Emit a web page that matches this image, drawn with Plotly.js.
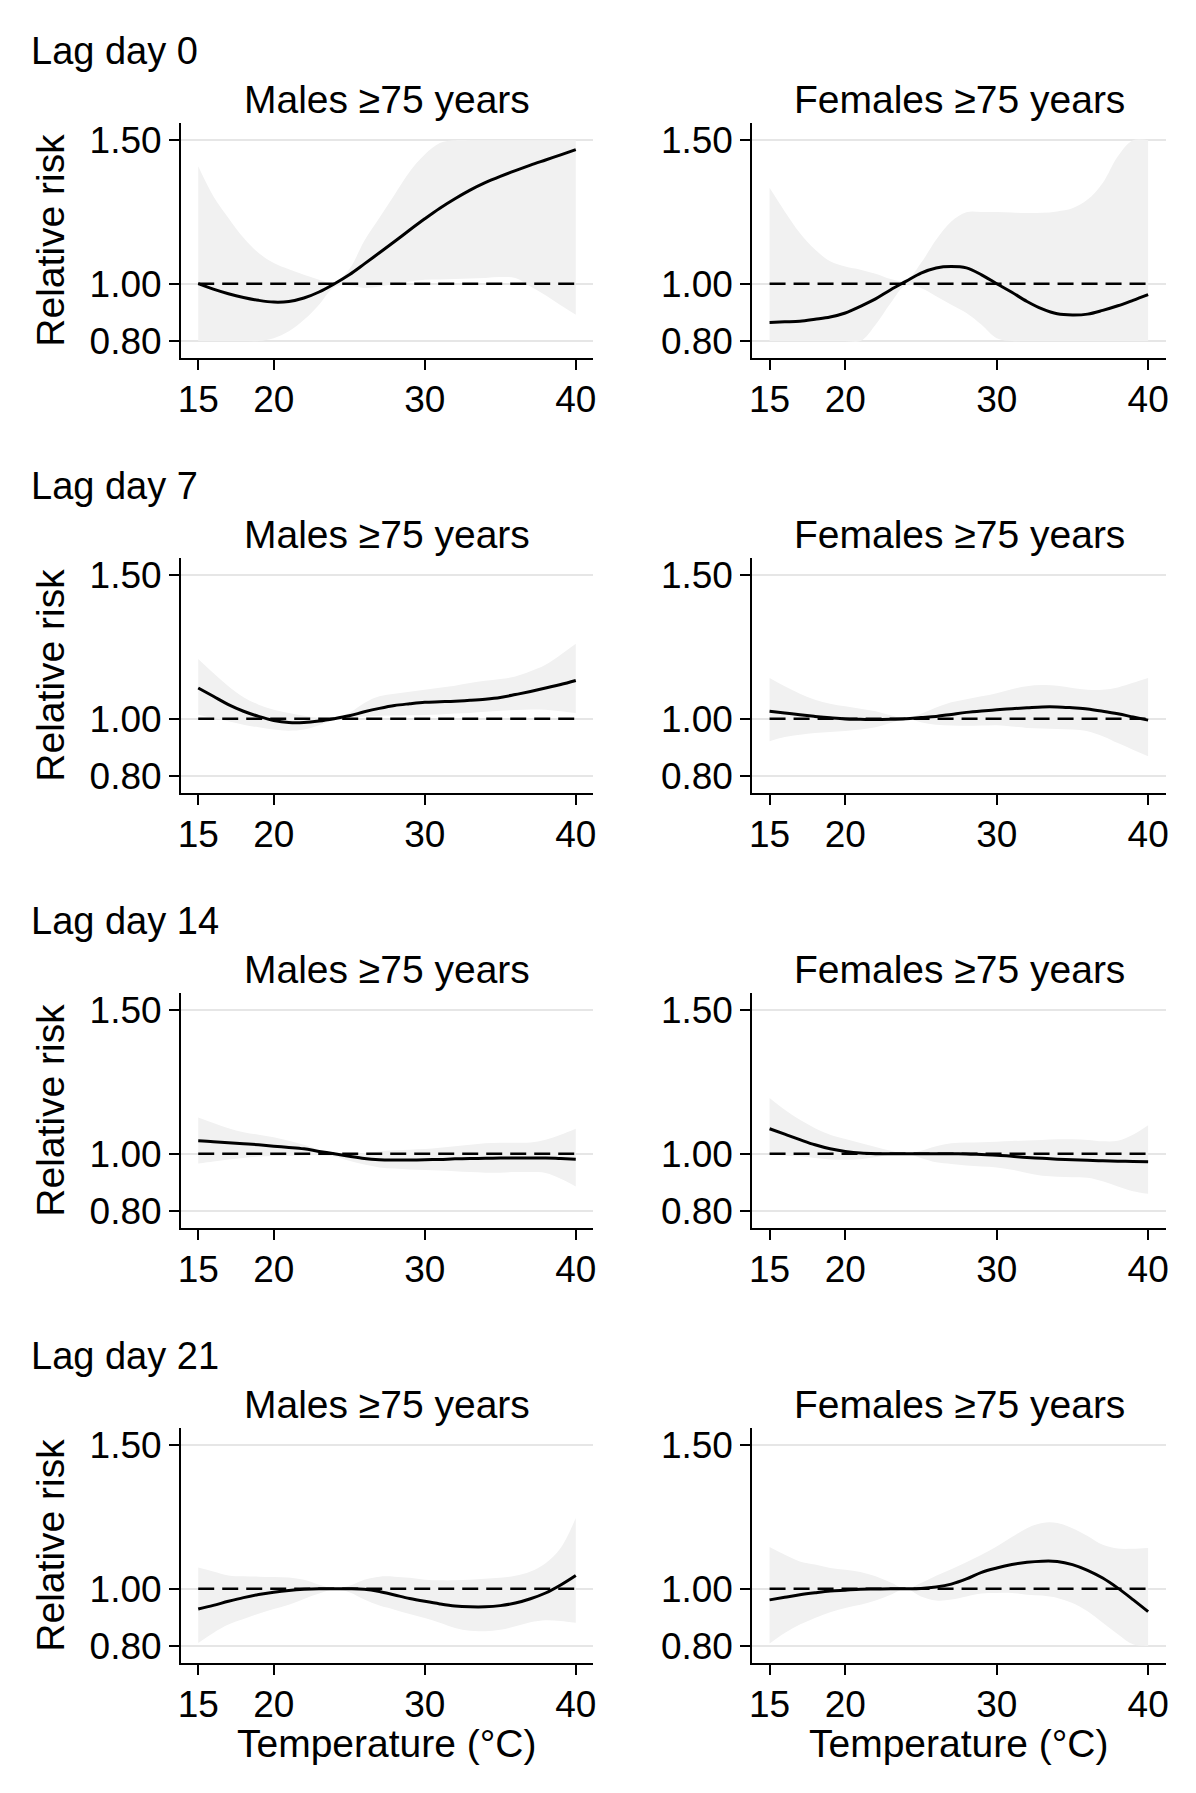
<!DOCTYPE html>
<html>
<head>
<meta charset="utf-8">
<script src="https://cdn.plot.ly/plotly-3.0.1.min.js"></script>
<style>
  body { margin: 0; background: #fff; }
  #chart { width: 1196px; height: 1793px; }
</style>
</head>
<body>
<div id="chart"></div>
<script>
// temperature grid (°C)
var temps = [15,16,17,18,19,20,21,22,23,24,25,26,27,28,29,30,31,32,33,34,35,36,37,38,39,40];

var lagLabels = ["Lag day 0", "Lag day 7", "Lag day 14", "Lag day 21"];
var groupLabels = ["Males \u226575 years", "Females \u226575 years"];
var xTicks = [15, 20, 30, 40];
var yTicks = [0.8, 1.0, 1.5];
var yTickText = ["0.80", "1.00", "1.50"];

// lag 0
var m0_rr  = [1.000,0.981,0.965,0.952,0.942,0.936,0.938,0.950,0.971,0.999,1.031,1.069,1.108,1.147,1.187,1.226,1.263,1.296,1.326,1.352,1.374,1.394,1.413,1.431,1.449,1.467];
var m0_lo  = [0.800,0.800,0.800,0.800,0.800,0.810,0.834,0.874,0.927,0.988,0.995,0.985,0.990,1.000,1.008,1.014,1.015,1.016,1.018,1.020,1.023,1.020,0.990,0.960,0.925,0.892];
var m0_hi  = [1.409,1.305,1.229,1.160,1.107,1.072,1.050,1.031,1.014,1.003,1.050,1.150,1.230,1.310,1.390,1.450,1.490,1.500,1.500,1.500,1.500,1.500,1.500,1.500,1.500,1.500];
var f0_rr  = [0.865,0.867,0.869,0.876,0.884,0.898,0.921,0.947,0.979,1.008,1.037,1.055,1.060,1.055,1.031,1.000,0.970,0.938,0.912,0.895,0.891,0.894,0.907,0.923,0.942,0.962];
var f0_lo  = [0.800,0.800,0.800,0.800,0.800,0.800,0.800,0.857,0.933,0.995,0.985,0.956,0.927,0.898,0.857,0.810,0.800,0.800,0.800,0.800,0.800,0.800,0.800,0.800,0.800,0.800];
var f0_hi  = [1.334,1.252,1.177,1.119,1.078,1.060,1.049,1.035,1.016,1.010,1.072,1.153,1.217,1.249,1.250,1.250,1.248,1.246,1.247,1.252,1.263,1.293,1.351,1.444,1.500,1.500];

// lag 7
var m7_rr  = [1.107,1.078,1.049,1.026,1.008,0.994,0.987,0.987,0.992,1.000,1.010,1.024,1.036,1.046,1.052,1.057,1.059,1.061,1.064,1.068,1.074,1.084,1.095,1.107,1.119,1.133];
var m7_lo  = [1.014,1.002,0.991,0.979,0.970,0.962,0.958,0.962,0.977,0.997,1.002,1.008,1.010,1.011,1.012,1.013,1.015,1.018,1.020,1.024,1.028,1.030,1.032,1.031,1.026,1.020];
var m7_hi  = [1.208,1.159,1.113,1.075,1.049,1.031,1.020,1.010,1.002,1.000,1.020,1.055,1.078,1.087,1.094,1.101,1.108,1.115,1.124,1.132,1.138,1.147,1.165,1.188,1.223,1.261];
var f7_rr  = [1.026,1.020,1.014,1.008,1.003,0.999,0.998,0.997,0.998,1.000,1.004,1.008,1.015,1.022,1.027,1.031,1.035,1.038,1.041,1.041,1.038,1.034,1.026,1.017,1.006,0.995];
var f7_lo  = [0.921,0.936,0.944,0.950,0.954,0.957,0.962,0.970,0.985,1.000,0.988,0.979,0.976,0.975,0.976,0.977,0.973,0.968,0.966,0.964,0.962,0.956,0.939,0.915,0.892,0.869];
var f7_hi  = [1.142,1.113,1.087,1.066,1.052,1.043,1.035,1.026,1.012,1.000,1.017,1.039,1.057,1.068,1.078,1.089,1.103,1.113,1.117,1.115,1.107,1.101,1.101,1.109,1.125,1.142];

// lag 14
var m14_rr = [1.045,1.042,1.038,1.035,1.031,1.026,1.022,1.017,1.008,1.000,0.991,0.983,0.979,0.978,0.978,0.979,0.980,0.982,0.983,0.984,0.985,0.985,0.985,0.985,0.983,0.981];
var m14_lo = [0.966,0.973,0.980,0.985,0.990,0.992,0.993,0.994,0.994,0.990,0.975,0.962,0.952,0.948,0.945,0.943,0.941,0.939,0.936,0.934,0.934,0.936,0.936,0.933,0.913,0.886];
var m14_hi = [1.126,1.107,1.089,1.075,1.066,1.057,1.045,1.031,1.014,1.001,1.000,1.002,1.008,1.012,1.014,1.016,1.021,1.026,1.031,1.036,1.038,1.038,1.039,1.049,1.066,1.087];
var f14_rr = [1.087,1.068,1.049,1.031,1.017,1.008,1.002,1.000,1.000,1.000,1.000,1.000,1.000,0.999,0.997,0.995,0.991,0.987,0.984,0.981,0.979,0.977,0.975,0.974,0.973,0.972];
var f14_lo = [0.997,0.994,0.991,0.985,0.980,0.979,0.981,0.988,0.997,1.000,0.985,0.970,0.964,0.959,0.955,0.952,0.944,0.933,0.923,0.920,0.918,0.916,0.904,0.886,0.869,0.860];
var f14_hi = [1.194,1.153,1.118,1.089,1.066,1.051,1.037,1.023,1.010,1.000,1.010,1.026,1.036,1.039,1.040,1.042,1.044,1.046,1.048,1.050,1.050,1.048,1.043,1.045,1.066,1.099];

// lag 21
var m21_rr = [0.929,0.942,0.956,0.969,0.980,0.988,0.994,0.998,1.000,1.000,1.000,0.998,0.990,0.978,0.966,0.956,0.947,0.940,0.937,0.937,0.941,0.950,0.965,0.985,1.013,1.046];
var m21_lo = [0.811,0.846,0.875,0.894,0.913,0.929,0.944,0.964,0.983,0.997,0.988,0.962,0.941,0.927,0.912,0.898,0.881,0.863,0.853,0.852,0.857,0.869,0.883,0.890,0.887,0.881];
var m21_hi = [1.074,1.060,1.046,1.043,1.042,1.041,1.039,1.031,1.014,1.002,1.010,1.031,1.042,1.042,1.038,1.031,1.029,1.029,1.031,1.035,1.038,1.045,1.060,1.089,1.142,1.246];
var f21_rr = [0.961,0.970,0.979,0.986,0.992,0.995,0.998,0.999,1.000,1.000,1.001,1.006,1.016,1.034,1.057,1.072,1.084,1.092,1.096,1.095,1.084,1.064,1.037,1.002,0.962,0.920];
var f21_lo = [0.809,0.846,0.875,0.898,0.918,0.933,0.944,0.959,0.979,1.000,0.973,0.959,0.962,0.973,0.983,0.985,0.985,0.979,0.976,0.968,0.950,0.921,0.881,0.841,0.806,0.800];
var f21_hi = [1.145,1.118,1.095,1.084,1.072,1.066,1.058,1.043,1.022,1.000,1.020,1.045,1.068,1.092,1.118,1.147,1.180,1.211,1.229,1.229,1.211,1.184,1.153,1.140,1.139,1.142];

var panels = [
  [m0_rr, m0_lo, m0_hi],   [f0_rr, f0_lo, f0_hi],
  [m7_rr, m7_lo, m7_hi],   [f7_rr, f7_lo, f7_hi],
  [m14_rr, m14_lo, m14_hi],[f14_rr, f14_lo, f14_hi],
  [m21_rr, m21_lo, m21_hi],[f21_rr, f21_lo, f21_hi]
];

var W = 1196, H = 1793;
var FONT = "Liberation Sans, Arial, sans-serif";
// pixel geometry of the plot areas
var colLeft = [181, 752.3], colRight = [593.3, 1165.7];
var rowTop0 = 123, rowBot0 = 358.3, rowStep = 435;

var traces = [];
var layout = {
  width: W, height: H,
  margin: {l: 0, r: 0, t: 0, b: 0},
  paper_bgcolor: "#fff", plot_bgcolor: "#fff",
  showlegend: false,
  font: {family: FONT, color: "#000", size: 37},
  annotations: []
};

panels.forEach(function(p, i) {
  var row = Math.floor(i / 2), col = i % 2;
  var n = i + 1;
  var xa = "x" + (n === 1 ? "" : n), ya = "y" + (n === 1 ? "" : n);
  var top = rowTop0 + row * rowStep, bot = rowBot0 + row * rowStep;

  layout["xaxis" + (n === 1 ? "" : n)] = {
    domain: [colLeft[col] / W, colRight[col] / W],
    range: [13.86, 41.16],
    anchor: ya,
    tickvals: xTicks,
    ticks: "outside", ticklen: 10, tickwidth: 2, tickcolor: "#000",
    ticklabelstandoff: -3,
    showline: true, linecolor: "#000", linewidth: 2,
    showgrid: false, zeroline: false,
    tickfont: {size: 37, family: FONT, color: "#000"},
    fixedrange: true
  };
  layout["yaxis" + (n === 1 ? "" : n)] = {
    domain: [1 - bot / H, 1 - top / H],
    range: [0.74, 1.56],
    anchor: xa,
    tickvals: yTicks, ticktext: yTickText,
    ticks: "outside", ticklen: 10, tickwidth: 2, tickcolor: "#000",
    showline: true, linecolor: "#000", linewidth: 2,
    showgrid: true, gridcolor: "#e6e6e6", gridwidth: 2,
    zeroline: false,
    tickfont: {size: 37, family: FONT, color: "#000"},
    fixedrange: true
  };

  // confidence band
  traces.push({x: temps, y: p[1], xaxis: xa, yaxis: ya, mode: "lines",
    line: {width: 0, shape: "spline"}, hoverinfo: "skip"});
  traces.push({x: temps, y: p[2], xaxis: xa, yaxis: ya, mode: "lines",
    line: {width: 0, shape: "spline"}, fill: "tonexty", fillcolor: "#f1f1f1", hoverinfo: "skip"});
  // reference line at 1
  traces.push({x: [temps[0], temps[temps.length - 1]], y: [1, 1], xaxis: xa, yaxis: ya, mode: "lines",
    line: {color: "#000", width: 2.5, dash: "16px,8px"}});
  // relative risk curve
  traces.push({x: temps, y: p[0], xaxis: xa, yaxis: ya, mode: "lines",
    line: {color: "#000", width: 3, shape: "spline"}});

  var cx = (colLeft[col] + colRight[col]) / 2 / W;
  layout.annotations.push({text: groupLabels[col], xref: "paper", yref: "paper",
    x: cx, y: 1 - (99 + row * rowStep) / H, xanchor: "center", yanchor: "middle",
    showarrow: false, font: {size: 39, family: FONT}});

  if (col === 0) {
    layout.annotations.push({text: lagLabels[row], xref: "paper", yref: "paper",
      x: 29 / W, y: 1 - (51 + row * rowStep) / H, xanchor: "left", yanchor: "middle",
      showarrow: false, font: {size: 38, family: FONT}});
    layout.annotations.push({text: "Relative risk", xref: "paper", yref: "paper",
      x: 51 / W, y: 1 - ((top + bot) / 2) / H, xanchor: "center", yanchor: "middle",
      textangle: -90, showarrow: false, font: {size: 39, family: FONT}});
  }
  if (row === 3) {
    layout.annotations.push({text: "Temperature (\u00b0C)", xref: "paper", yref: "paper",
      x: cx, y: 1 - 1743 / H, xanchor: "center", yanchor: "middle",
      showarrow: false, font: {size: 39, family: FONT}});
  }
});

Plotly.newPlot("chart", traces, layout, {displayModeBar: false, staticPlot: true});
</script>
</body>
</html>
